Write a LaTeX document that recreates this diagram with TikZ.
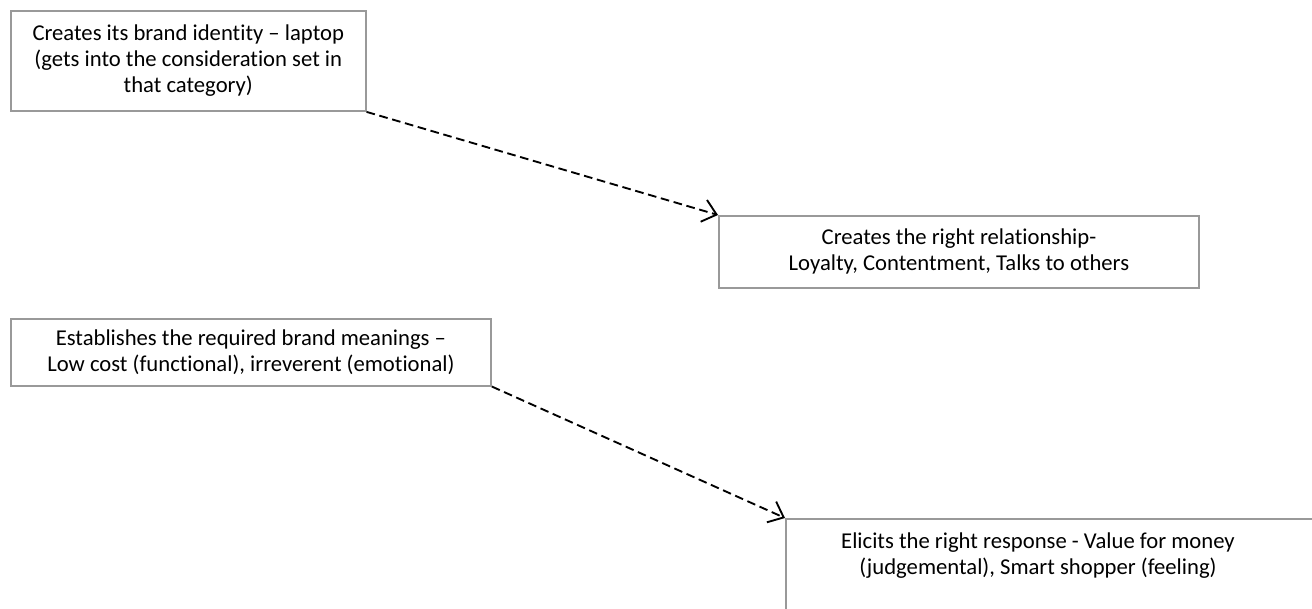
\documentclass[tikz,border=0pt]{standalone}
\usepackage{fontspec}
\setmainfont{Carlito}[Ligatures=NoCommon]
\usetikzlibrary{arrows.meta}

\begin{document}
\begin{tikzpicture}[x=0.75pt,y=-0.75pt,
  stagebox/.style={draw=black!40, line width=1.4pt, rectangle, anchor=north west,
    align=center, inner sep=2pt, font=\fontsize{17pt}{19.5pt}\selectfont},
  plaintext/.style={align=center, inner sep=0pt, font=\fontsize{17pt}{19.5pt}\selectfont},
  flow/.style={draw=black, line width=1.4pt, dash pattern=on 6.5pt off 3.5pt,
    -{Straight Barb[length=10pt,width=17pt,line width=1.4pt]}}]
  \useasboundingbox (0,0) rectangle (1312,608);
  \clip (0,0) rectangle (1312,608);

  % stages of brand building
  \node[stagebox, minimum width=266pt, minimum height=75pt] (identity) at (10,10)
    {Creates its brand identity – laptop\\(gets into the consideration set in\\that category)};
  \node[stagebox, minimum width=360pt, minimum height=54pt] (relation) at (718,215)
    {\raisebox{-3pt}{\parbox{350pt}{\centering Creates the right relationship-\\Loyalty, Contentment, Talks to others}}};
  \node[stagebox, minimum width=360pt, minimum height=50pt] (meaning) at (10,318)
    {Establishes the required brand meanings –\\Low cost (functional), irreverent (emotional)};
  \node[stagebox, minimum width=525pt, minimum height=150pt] (response) at (785,518) {};
  \node[plaintext] (responsetext) at (1038,556)
    {Elicits the right response - Value for money\\(judgemental), Smart shopper (feeling)};

  % links between stages
  \draw[flow] (identity.south east) -- (relation.north west);
  \draw[flow] (meaning.south east) -- (response.north west);
\end{tikzpicture}
\end{document}
